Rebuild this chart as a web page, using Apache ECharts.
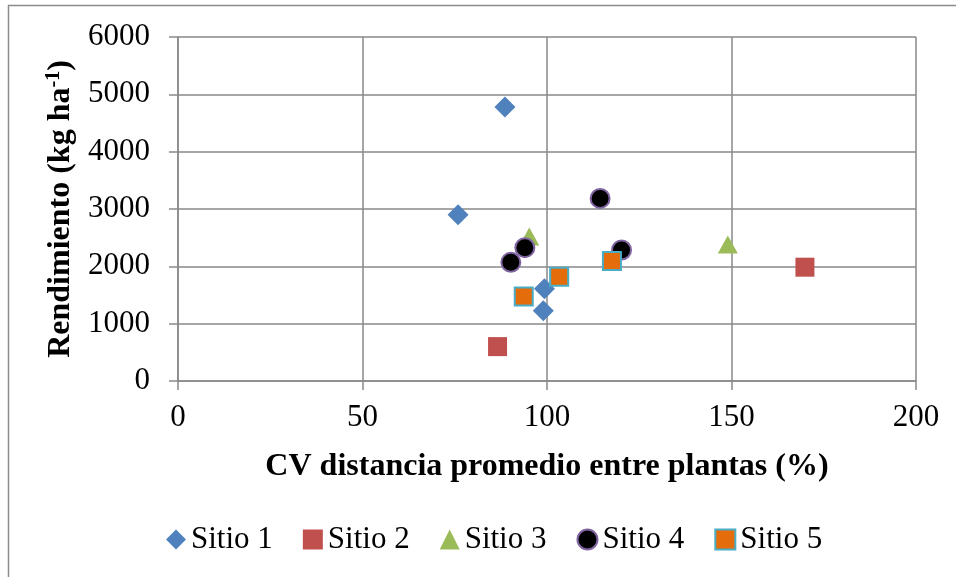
<!DOCTYPE html>
<html>
<head>
<meta charset="utf-8">
<script src="https://cdn.jsdelivr.net/npm/echarts@6/dist/echarts.min.js"></script>
<style>
  html, body { margin: 0; padding: 0; background: #fff; }
  #chart { width: 956px; height: 577px; }
</style>
</head>
<body>
<div id="chart"></div>
<script>
// CV of plant spacing (%) and yield (kg/ha) per site
const sitio1X = [88.6, 75.9, 99.3, 99.0];
const sitio1Y = [4780, 2900, 1610, 1225];
const sitio2X = [86.6, 169.9];
const sitio2Y = [600, 1985];
const sitio3X = [95.2, 149.0];
const sitio3Y = [2520, 2380];
const sitio4X = [114.4, 120.2, 94.0, 90.2];
const sitio4Y = [3185, 2285, 2325, 2070];
const sitio5X = [93.7, 103.3, 117.6];
const sitio5Y = [1475, 1820, 2095];

const seriesNames = ['Sitio 1', 'Sitio 2', 'Sitio 3', 'Sitio 4', 'Sitio 5'];
const xTicks = [0, 50, 100, 150, 200];
const yTicks = [0, 1000, 2000, 3000, 4000, 5000, 6000];

const pairs = (xs, ys) => xs.map((x, i) => [x, ys[i]]);
const serif = '"Liberation Serif", "Times New Roman", serif';
const gridColor = '#898989';

const chart = echarts.init(document.getElementById('chart'), null, { renderer: 'canvas' });

chart.setOption({
  animation: false,
  backgroundColor: '#ffffff',
  textStyle: { fontFamily: serif, color: '#000' },
  grid: { left: 178, right: 40, top: 37, bottom: 196, containLabel: false },
  graphic: [{
    type: 'rect',
    shape: { x: 8.5, y: 5.5, width: 1000, height: 700 },
    style: { fill: 'none', stroke: '#8c8c8c', lineWidth: 1.5 },
    silent: true
  }],
  xAxis: {
    type: 'value',
    min: xTicks[0],
    max: xTicks[xTicks.length - 1],
    interval: 50,
    name: 'CV distancia promedio entre plantas (%)',
    nameLocation: 'middle',
    nameGap: 70,
    nameTextStyle: { fontFamily: serif, fontWeight: 'bold', fontSize: 32, color: '#000' },
    axisLine: { show: true, lineStyle: { color: gridColor, width: 1.5 } },
    axisTick: { show: true, inside: false, length: 9, lineStyle: { color: gridColor, width: 1.5 } },
    axisLabel: { margin: 21, fontSize: 31, color: '#000', fontFamily: serif },
    splitLine: { show: true, lineStyle: { color: gridColor, width: 1.5 } }
  },
  yAxis: {
    type: 'value',
    min: yTicks[0],
    max: yTicks[yTicks.length - 1],
    interval: 1000,
    name: '{t|Rendimiento (kg ha}{s|-1}{t|)}',
    nameLocation: 'middle',
    nameRotate: 90,
    nameGap: 91,
    nameTextStyle: {
      rich: {
        t: { fontFamily: serif, fontWeight: 'bold', fontSize: 32, color: '#000' },
        s: { fontFamily: serif, fontWeight: 'bold', fontSize: 20, color: '#000', padding: [0, 0, 14, 0] }
      }
    },
    axisLine: { show: true, lineStyle: { color: gridColor, width: 1.5 } },
    axisTick: { show: true, inside: false, length: 9, lineStyle: { color: gridColor, width: 1.5 } },
    axisLabel: {
      margin: 28, fontSize: 31, color: '#000', fontFamily: serif,
      formatter: (v) => String(v)
    },
    splitLine: { show: true, lineStyle: { color: gridColor, width: 1.5 } }
  },
  legend: {
    bottom: 17,
    left: 161,
    itemWidth: 20,
    itemHeight: 20,
    itemGap: 30,
    textStyle: { fontFamily: serif, fontSize: 31, color: '#000', padding: [0, 0, 0, 0] },
    data: seriesNames
  },
  series: [
    {
      name: seriesNames[0], type: 'scatter', symbol: 'diamond', symbolSize: 21,
      itemStyle: { color: '#4f81bd', opacity: 1 },
      data: pairs(sitio1X, sitio1Y)
    },
    {
      name: seriesNames[1], type: 'scatter', symbol: 'rect', symbolSize: 19,
      itemStyle: { color: '#c0504d', opacity: 1 },
      data: pairs(sitio2X, sitio2Y)
    },
    {
      name: seriesNames[2], type: 'scatter', symbol: 'triangle', symbolSize: [20, 18],
      itemStyle: { color: '#9bbb59', opacity: 1 },
      data: pairs(sitio3X, sitio3Y)
    },
    {
      name: seriesNames[3], type: 'scatter', symbol: 'circle', symbolSize: 19,
      itemStyle: { color: '#000000', borderColor: '#8064a2', borderWidth: 2, opacity: 1 },
      data: pairs(sitio4X, sitio4Y)
    },
    {
      name: seriesNames[4], type: 'scatter', symbol: 'rect', symbolSize: 18,
      itemStyle: { color: '#e46c0a', borderColor: '#4bacc6', borderWidth: 2, opacity: 1 },
      data: pairs(sitio5X, sitio5Y)
    }
  ]
});
</script>
</body>
</html>
